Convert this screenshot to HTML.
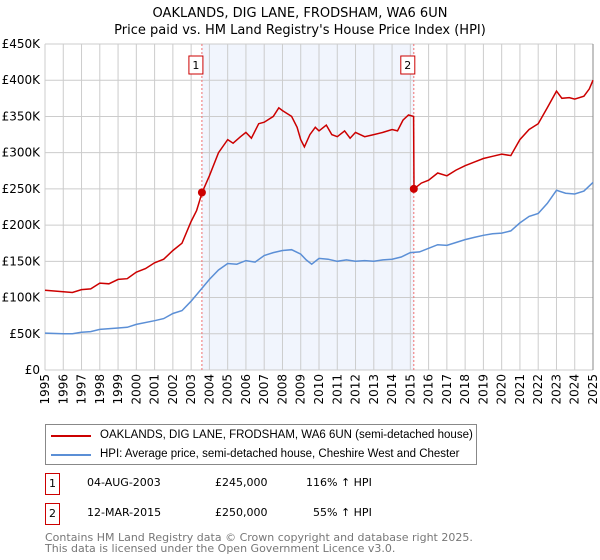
<!DOCTYPE html>
<html><head><meta charset="utf-8"><style>
body{margin:0;background:#fff;font-family:"Liberation Sans","DejaVu Sans",sans-serif;}
#wrap{position:relative;width:600px;height:560px;overflow:hidden;}
.t{position:absolute;font-size:12px;color:#000;white-space:nowrap;}
</style></head><body>
<div id="wrap">
<svg id="chart" width="600" height="420" style="position:absolute;left:0;top:0">
<text x="300" y="17" text-anchor="middle" font-size="13" font-family="DejaVu Sans,sans-serif">OAKLANDS, DIG LANE, FRODSHAM, WA6 6UN</text>
<text x="300" y="34" text-anchor="middle" font-size="13" font-family="DejaVu Sans,sans-serif">Price paid vs. HM Land Registry's House Price Index (HPI)</text>
</svg>
<div style="position:absolute;left:45px;top:424px;width:430px;height:39px;border:1px solid #888;font-family:'Liberation Sans',sans-serif;font-size:11.5px;white-space:nowrap;">
<div style="position:absolute;left:5px;top:10px;width:40px;height:2px;background:#cc0000"></div>
<div style="position:absolute;left:54px;top:4px">OAKLANDS, DIG LANE, FRODSHAM, WA6 6UN (semi-detached house)</div>
<div style="position:absolute;left:5px;top:29px;width:40px;height:2px;background:#5b8fd6"></div>
<div style="position:absolute;left:54px;top:23px">HPI: Average price, semi-detached house, Cheshire West and Chester</div>
</div>
<div style="font-family:'DejaVu Sans',sans-serif;font-size:11px">
<div style="position:absolute;left:45px;top:473px;width:13px;height:20px;border:1px solid #cc0000;text-align:center;line-height:20px">1</div>
<div class="t" style="left:87px;top:476px;font-size:11px">04-AUG-2003</div>
<div class="t" style="left:215px;top:476px;font-size:11px">£245,000</div>
<div class="t" style="left:306px;top:476px;font-size:11px">116% ↑ HPI</div>
</div>
<div style="font-family:'DejaVu Sans',sans-serif;font-size:11px">
<div style="position:absolute;left:45px;top:503px;width:13px;height:20px;border:1px solid #cc0000;text-align:center;line-height:20px">2</div>
<div class="t" style="left:87px;top:506px;font-size:11px">12-MAR-2015</div>
<div class="t" style="left:215px;top:506px;font-size:11px">£250,000</div>
<div class="t" style="left:313px;top:506px;font-size:11px">55% ↑ HPI</div>
</div>
<div class="t" style="left:45px;top:532px;font-size:11px;color:#777;line-height:11px;font-family:'DejaVu Sans',sans-serif">Contains HM Land Registry data © Crown copyright and database right 2025.<br>This data is licensed under the Open Government Licence v3.0.</div>
</div>
<script>
const yTicks=[0,50,100,150,200,250,300,350,400,450];
const yTickLabels=["£0","£50K","£100K","£150K","£200K","£250K","£300K","£350K","£400K","£450K"];
const xYears=[1995,1996,1997,1998,1999,2000,2001,2002,2003,2004,2005,2006,2007,2008,2009,2010,2011,2012,2013,2014,2015,2016,2017,2018,2019,2020,2021,2022,2023,2024,2025];
const hpiT=[1995,1996,1996.5,1997,1997.5,1998,1999,1999.5,2000,2001,2001.5,2002,2002.5,2003,2003.6,2004,2004.5,2005,2005.5,2006,2006.5,2007,2007.5,2008,2008.5,2009,2009.3,2009.6,2010,2010.5,2011,2011.5,2012,2012.5,2013,2013.5,2014,2014.5,2015,2015.5,2016,2016.5,2017,2017.5,2018,2018.5,2019,2019.5,2020,2020.5,2021,2021.5,2022,2022.5,2023,2023.5,2024,2024.5,2025];
const hpiV=[51,50,50,52,53,56,58,59,63,68,71,78,82,95,113,125,138,147,146,151,149,158,162,165,166,160,152,146,154,153,150,152,150,151,150,152,153,156,162,163,168,173,172,176,180,183,186,188,189,192,203,212,216,230,248,244,243,247,259];
const redT=[1995,1996,1996.5,1997,1997.5,1998,1998.5,1999,1999.5,2000,2000.5,2001,2001.5,2002,2002.5,2003,2003.3,2003.6,2004,2004.5,2005,2005.3,2005.7,2006,2006.3,2006.7,2007,2007.5,2007.8,2008,2008.5,2008.8,2009,2009.2,2009.5,2009.8,2010,2010.4,2010.7,2011,2011.4,2011.7,2012,2012.5,2013,2013.5,2014,2014.3,2014.6,2014.9,2015.18,2015.2,2015.6,2016,2016.5,2017,2017.5,2018,2018.5,2019,2019.5,2020,2020.5,2021,2021.5,2022,2022.5,2023,2023.3,2023.7,2024,2024.5,2024.8,2025];
const redV=[110,108,107,111,112,120,119,125,126,135,140,148,153,165,175,205,220,245,268,300,318,313,322,328,320,340,342,350,362,358,350,335,318,308,325,335,330,338,325,322,330,320,328,322,325,328,332,330,345,352,350,250,258,262,272,268,276,282,287,292,295,298,296,318,332,340,362,385,375,376,374,378,388,400];
const saleT=[2003.59,2015.19];
const saleV=[245,250];
const saleLabels=["1","2"];

const svg=document.getElementById('chart');
const NS='http://www.w3.org/2000/svg';
const X0=45,X1=593,Y0=370,Y1=44;
function xs(t){return X0+(t-1995)/30*(X1-X0);}
function ys(v){return Y0-v/450*(Y0-Y1);}
function mk(tag,attrs){const e=document.createElementNS(NS,tag);for(const k in attrs)e.setAttribute(k,attrs[k]);svg.appendChild(e);return e;}

const shade=mk('rect',{x:xs(saleT[0]),y:Y1,width:xs(saleT[1])-xs(saleT[0]),height:Y0-Y1,fill:'#eef3fc',opacity:0.8});



yTicks.forEach((v,i)=>{
  const l=mk('line',{x1:X0,x2:X1,y1:ys(v),y2:ys(v),stroke:'#ccc','stroke-width':1});
  
  
  const t=mk('text',{x:X0-5,y:ys(v)+4,'text-anchor':'end','font-size':12,'font-family':'DejaVu Sans,sans-serif'});
  t.textContent=yTickLabels[i];
  
  
});
xYears.forEach(yr=>{
  const l=mk('line',{x1:xs(yr),x2:xs(yr),y1:Y1,y2:Y0,stroke:'#ccc','stroke-width':1});
  
  
  const t=mk('text',{x:0,y:0,'text-anchor':'end','font-size':12,'font-family':'DejaVu Sans,sans-serif',transform:`translate(${xs(yr)+4},${Y0+4}) rotate(-90)`});
  t.textContent=String(yr);
  
  
});
const rb=mk('line',{x1:X1,x2:X1,y1:Y1,y2:Y0,stroke:'#888','stroke-width':1});



saleT.forEach((t,i)=>{
  const l=mk('line',{x1:xs(t),x2:xs(t),y1:Y1,y2:Y0,stroke:'#f07070','stroke-width':1,'stroke-dasharray':'2,2'});
  
  
  const r=mk('rect',{x:xs(t)-13,y:56,width:14,height:18,fill:'#fff',stroke:'#cc0000'});
  
  
  const tx=mk('text',{x:xs(t)-6,y:69,'text-anchor':'middle','font-size':11,'font-family':'DejaVu Sans,sans-serif'});
  tx.textContent=saleLabels[i];
  
  
});

function path(T,V){return T.map((t,i)=>(i?'L':'M')+xs(t).toFixed(1)+','+ys(V[i]).toFixed(1)).join('');}
const hp=mk('path',{d:path(hpiT,hpiV),fill:'none',stroke:'#5b8fd6','stroke-width':1.5});


const rp=mk('path',{d:path(redT,redV),fill:'none',stroke:'#cc0000','stroke-width':1.5});


saleT.forEach((t,i)=>{
  const c=mk('circle',{cx:xs(t),cy:ys(saleV[i]),r:4,fill:'#cc0000'});
  
  
});
</script>
</body></html>
